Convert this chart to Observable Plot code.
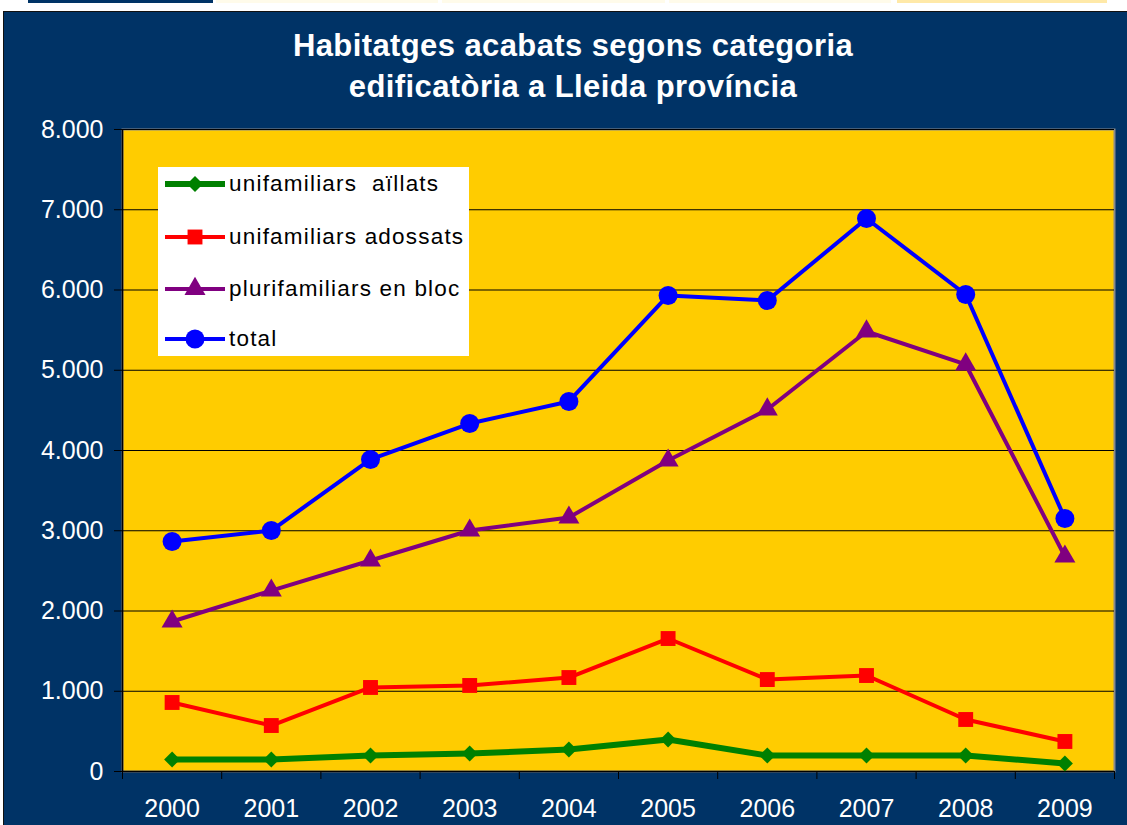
<!DOCTYPE html>
<html><head><meta charset="utf-8">
<script src="https://cdn.jsdelivr.net/npm/d3@7"></script>
<script src="https://cdn.jsdelivr.net/npm/@observablehq/plot@0.6"></script>
<style>
html,body{margin:0;padding:0}
body{background:#fff;width:1127px;height:825px;overflow:hidden;position:relative;font-family:"Liberation Sans",Arial,sans-serif}
.bar{position:absolute;top:0;height:3px}
#panel{position:absolute;left:3px;top:11px;width:1124px;height:814px;background:#003366;border-top:1px solid #111;border-left:1px solid #111}
#title{position:absolute;left:0;top:25px;width:1146px;text-align:center;color:#fff;font-weight:bold;font-size:31px;line-height:41px;letter-spacing:0.4px}
#chart{position:absolute;left:0;top:115px}
#legend{position:absolute;left:158px;top:167px;width:311px;height:189px;background:#fff}
.item{position:absolute;left:7px;height:30px;display:flex;align-items:center;font-size:22.5px;letter-spacing:1.2px;color:#000}
.item svg{margin-right:2px}
</style></head><body>
<div class="bar" style="left:28px;width:185px;background:#003366"></div>
<div class="bar" style="left:216px;width:222px;background:#fffbea"></div>
<div class="bar" style="left:442px;width:223px;background:#fffbea"></div>
<div class="bar" style="left:669px;width:222px;background:#fffbea"></div>
<div class="bar" style="left:897px;width:210px;background:#ffe9a8"></div>
<div id="panel"></div>
<div id="title">Habitatges acabats segons categoria<br>edificatòria a Lleida província</div>
<div id="chart"></div>
<div id="legend"></div>
<script>
const years = [2000, 2001, 2002, 2003, 2004, 2005, 2006, 2007, 2008, 2009];
const aillats = [150, 150, 200, 224, 274, 399, 200, 200, 200, 100];
const adossats = [860, 573, 1047, 1072, 1171, 1657, 1146, 1196, 648, 374];
const bloc = [1869, 2255, 2629, 3003, 3165, 3875, 4511, 5483, 5072, 2679];
const total = [2866, 3003, 3888, 4336, 4611, 5932, 5869, 6891, 5944, 3153];
const seriesNames = ["unifamiliars  aïllats", "unifamiliars adossats", "plurifamiliars en bloc", "total"];
const seriesColors = ["#008000", "#ff0000", "#800080", "#0000ff"];
const seriesSymbols = ["diamond2", "square", "triangle", "circle"];
const yTicks = [0, 1000, 2000, 3000, 4000, 5000, 6000, 7000, 8000];

const seriesValues = [aillats, adossats, bloc, total];
const lineWidths = [6, 4, 4, 4];
const dotR = [7.2, 8.4, 7.8, 9.5];

const series = seriesNames.map((name, k) => ({
  name, color: seriesColors[k], symbol: seriesSymbols[k],
  data: years.map((y, i) => ({year: y, value: seriesValues[k][i]}))
}));

const fmt = d => d3.format(",")(d).replace(/,/g, ".");
const boundaries = years.map(y => y - 0.5).concat([years[years.length - 1] + 0.5]);

const marks = [
  Plot.frame({fill: "#FFCC00", stroke: "#8a8a8a", strokeWidth: 2}),
  Plot.gridY(yTicks, {stroke: "#000", strokeOpacity: 1, strokeWidth: 1}),
  Plot.ruleY([0], {stroke: "#000", strokeWidth: 1.5}),
  Plot.ruleX([boundaries[0]], {stroke: "#000", strokeWidth: 1.5}),
  Plot.axisY({ticks: yTicks, tickSize: 8, tickPadding: 11, tickFormat: fmt, stroke: "#000", fill: "#fff", label: null}),
  Plot.axisX({ticks: years, tickSize: 0, tickPadding: 28, tickFormat: d => String(d), fill: "#fff", label: null}),
  Plot.axisX({ticks: boundaries, tickSize: 8, tickFormat: () => "", stroke: "#000", label: null})
];
series.forEach((s, k) => {
  marks.push(Plot.line(s.data, {x: "year", y: "value", stroke: s.color, strokeWidth: lineWidths[k]}));
  marks.push(Plot.dot(s.data, {x: "year", y: "value", symbol: s.symbol, r: dotR[k], fill: s.color, stroke: "none"}));
});

const chart = Plot.plot({
  width: 1127, height: 710,
  marginTop: 14, marginLeft: 122, marginRight: 13, marginBottom: 54,
  style: {background: "transparent", fontFamily: "'Liberation Sans', Arial, sans-serif", fontSize: "25px", color: "#fff"},
  x: {type: "linear", domain: [boundaries[0], boundaries[boundaries.length - 1]]},
  y: {domain: [0, 8000]},
  marks
});
document.getElementById("chart").appendChild(chart);

// legend
const legend = document.getElementById("legend");
const legendTops = [2, 55, 107, 157];
const symTypes = {diamond2: d3.symbolDiamond2, square: d3.symbolSquare, triangle: d3.symbolTriangle, circle: d3.symbolCircle};
series.forEach((s, k) => {
  const item = document.createElement("div");
  item.className = "item";
  item.style.top = legendTops[k] + "px";
  const size = Math.PI * dotR[k] * dotR[k];
  const path = d3.symbol(symTypes[s.symbol], size)();
  item.innerHTML = `<svg width="62" height="30"><line x1="0" x2="60" y1="15" y2="15" stroke="${s.color}" stroke-width="${lineWidths[k]}"/><path d="${path}" transform="translate(30,15)" fill="${s.color}"/></svg><span>${s.name.replace(/  /g, "&nbsp; ")}</span>`;
  legend.appendChild(item);
});
</script>
</body></html>
